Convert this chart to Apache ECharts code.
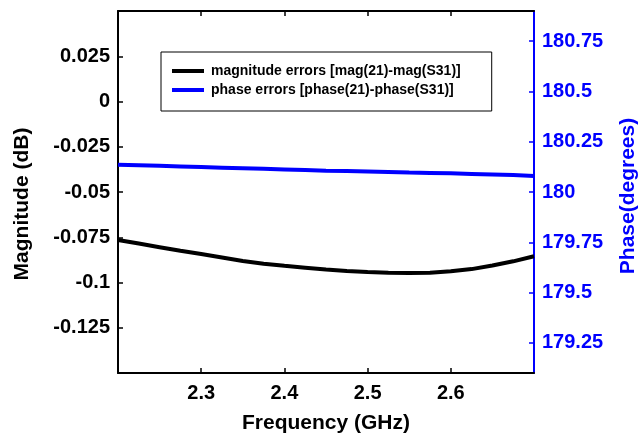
<!DOCTYPE html>
<html>
<head>
<meta charset="utf-8">
<script src="https://cdn.jsdelivr.net/npm/echarts@6/dist/echarts.min.js"></script>
<style>html,body{margin:0;padding:0;background:#fff}#c{width:641px;height:439px}</style>
</head>
<body>
<div id="c"></div>
<script>
const freq = [2.2, 2.225, 2.25, 2.275, 2.3, 2.325, 2.35, 2.375, 2.4, 2.425, 2.45, 2.475, 2.5, 2.525, 2.55, 2.575, 2.6, 2.625, 2.65, 2.675, 2.7];
const magErr = [-0.0765, -0.0785, -0.0805, -0.0825, -0.0843, -0.0862, -0.0881, -0.0896, -0.0908, -0.0918, -0.0928, -0.0936, -0.0942, -0.0946, -0.0948, -0.0946, -0.0938, -0.0926, -0.0906, -0.0883, -0.0855];
const phaseErr = [180.136, 180.133, 180.130, 180.127, 180.124, 180.121, 180.118, 180.115, 180.112, 180.109, 180.106, 180.104, 180.102, 180.100, 180.097, 180.095, 180.093, 180.090, 180.087, 180.084, 180.080];
const xTicks = [2.3, 2.4, 2.5, 2.6];
const magTicks = [0.025, 0, -0.025, -0.05, -0.075, -0.1, -0.125];
const phaseTicks = [179.25, 179.5, 179.75, 180, 180.25, 180.5, 180.75];
const magName = 'magnitude errors [mag(21)-mag(S31)]';
const phaseName = 'phase errors [phase(21)-phase(S31)]';

const FONT = '"Liberation Sans", Arial, sans-serif';
const BLUE = '#0000ff';
const chart = echarts.init(document.getElementById('c'), null, {renderer: 'canvas'});
chart.setOption({
  animation: false,
  backgroundColor: '#fff',
  grid: {left: 118, right: 107, top: 11, bottom: 66, containLabel: false, outerBoundsMode: 'none'},
  legend: {
    orient: 'vertical', left: 161, top: 52,
    padding: [12, 31, 14, 11],
    borderColor: '#000', borderWidth: 1, borderRadius: 0,
    itemGap: 5, itemWidth: 32, itemHeight: 4, icon: 'rect',
    textStyle: {fontFamily: FONT, fontWeight: 'bold', fontSize: 14, lineHeight: 14, color: '#000', padding: [0, 0, 0, 2]},
    data: [magName, phaseName]
  },
  xAxis: [{
    type: 'value', min: 2.2, max: 2.7, position: 'bottom',
    name: 'Frequency (GHz)', nameLocation: 'middle', nameGap: 40,
    nameTextStyle: {fontFamily: FONT, fontWeight: 'bold', fontSize: 21, color: '#000'},
    axisLine: {show: true, onZero: false, lineStyle: {color: '#000', width: 2}},
    axisTick: {show: true, inside: true, length: 5, customValues: xTicks, lineStyle: {color: '#000', width: 1.5}},
    axisLabel: {customValues: xTicks, margin: 10, fontFamily: FONT, fontWeight: 'bold', fontSize: 20, color: '#000'},
    splitLine: {show: false}
  }, {
    type: 'value', min: 2.2, max: 2.7, position: 'top',
    axisLine: {show: true, onZero: false, lineStyle: {color: '#000', width: 2}},
    axisTick: {show: true, inside: true, length: 5, customValues: xTicks, lineStyle: {color: '#000', width: 1.5}},
    axisLabel: {show: false},
    splitLine: {show: false}
  }],
  yAxis: [{
    type: 'value', min: -0.15, max: 0.05, position: 'left',
    name: 'Magnitude (dB)', nameLocation: 'middle', nameGap: 85, nameRotate: 90,
    nameTextStyle: {fontFamily: FONT, fontWeight: 'bold', fontSize: 21, color: '#000', padding: [0, 24, 0, 0]},
    axisLine: {show: true, onZero: false, lineStyle: {color: '#000', width: 2}},
    axisTick: {show: true, inside: true, length: 5, customValues: magTicks, lineStyle: {color: '#000', width: 1.5}},
    axisLabel: {customValues: magTicks, margin: 8, fontFamily: FONT, fontWeight: 'bold', fontSize: 20, color: '#000'},
    splitLine: {show: false}
  }, {
    type: 'value', min: 179.1, max: 180.9, position: 'right',
    name: 'Phase(degrees)', nameLocation: 'middle', nameGap: 84, nameRotate: 90,
    nameTextStyle: {fontFamily: FONT, fontWeight: 'bold', fontSize: 21, color: BLUE, padding: [0, 8, 0, 0]},
    axisLine: {show: true, onZero: false, lineStyle: {color: BLUE, width: 2}},
    axisTick: {show: true, inside: true, length: 5, customValues: phaseTicks, lineStyle: {color: BLUE, width: 1.5}},
    axisLabel: {customValues: phaseTicks, margin: 8, fontFamily: FONT, fontWeight: 'bold', fontSize: 20, color: BLUE},
    splitLine: {show: false}
  }],
  series: [{
    name: magName, type: 'line', xAxisIndex: 0, yAxisIndex: 0,
    data: freq.map((f, i) => [f, magErr[i]]),
    showSymbol: false, color: '#000',
    lineStyle: {color: '#000', width: 4}
  }, {
    name: phaseName, type: 'line', xAxisIndex: 0, yAxisIndex: 1,
    data: freq.map((f, i) => [f, phaseErr[i]]),
    showSymbol: false, color: BLUE,
    lineStyle: {color: BLUE, width: 4}
  }]
});
</script>
</body>
</html>
